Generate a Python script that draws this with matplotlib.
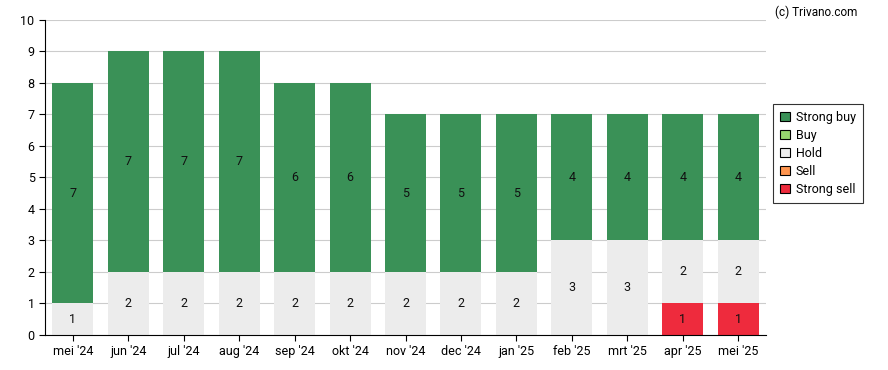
import matplotlib.pyplot as plt
from matplotlib.patches import Patch
import numpy as np

plt.rcParams['font.family'] = ['Roboto', 'DejaVu Sans']

months = ["mei '24", "jun '24", "jul '24", "aug '24", "sep '24", "okt '24", "nov '24",
          "dec '24", "jan '25", "feb '25", "mrt '25", "apr '25", "mei '25"]
strong_sell = [0, 0, 0, 0, 0, 0, 0, 0, 0, 0, 0, 1, 1]
sell = [0] * 13
hold = [1, 2, 2, 2, 2, 2, 2, 2, 2, 3, 3, 2, 2]
buy = [0] * 13
strong_buy = [7, 7, 7, 7, 6, 6, 5, 5, 5, 4, 4, 4, 4]

colors = {"Strong buy": "#3a9157", "Buy": "#96d46e", "Hold": "#ececec",
          "Sell": "#ff9650", "Strong sell": "#ee2b3d"}

fig = plt.figure(figsize=(8.88, 3.70), dpi=100)
ax = fig.add_axes([0.0507, 0.0946, 0.8119, 0.8514])

x = np.arange(len(months))
bottom = np.zeros(len(months))
for name, vals in [("Strong sell", strong_sell), ("Sell", sell), ("Hold", hold),
                   ("Buy", buy), ("Strong buy", strong_buy)]:
    vals = np.array(vals)
    ax.bar(x, vals, 0.74, bottom=bottom, color=colors[name], zorder=2)
    for xi, b, v in zip(x, bottom, vals):
        if v > 0:
            ax.text(xi, b + v / 2, str(v), ha='center', va='center', fontsize=9, color='#111111', zorder=3)
    bottom += vals

ax.set_xlim(-0.5, len(months) - 0.5)
ax.set_ylim(0, 10)
ax.set_yticks(range(0, 11))
ax.set_xticks(x)
ax.set_xticklabels(months)
ax.tick_params(labelsize=9, length=4, color='black')
ax.yaxis.grid(True, color='#cccccc', linewidth=0.8, zorder=0)
ax.set_axisbelow(True)
for s in ['top', 'right']:
    ax.spines[s].set_visible(False)

handles = [Patch(facecolor=colors[n], edgecolor='black', linewidth=0.8, label=n)
           for n in ["Strong buy", "Buy", "Hold", "Sell", "Strong sell"]]
leg = fig.legend(handles=handles, loc='upper left', bbox_to_anchor=(0.864, 0.735),
                 fontsize=9, frameon=True, fancybox=False, edgecolor='black',
                 handlelength=0.75, handleheight=0.75, handletextpad=0.5,
                 labelspacing=0.4, borderpad=0.55)
leg.get_frame().set_linewidth(0.8)

fig.text(0.965, 0.985, "(c) Trivano.com", ha='right', va='top', fontsize=8.5)

fig.savefig("out.png", dpi=100)
